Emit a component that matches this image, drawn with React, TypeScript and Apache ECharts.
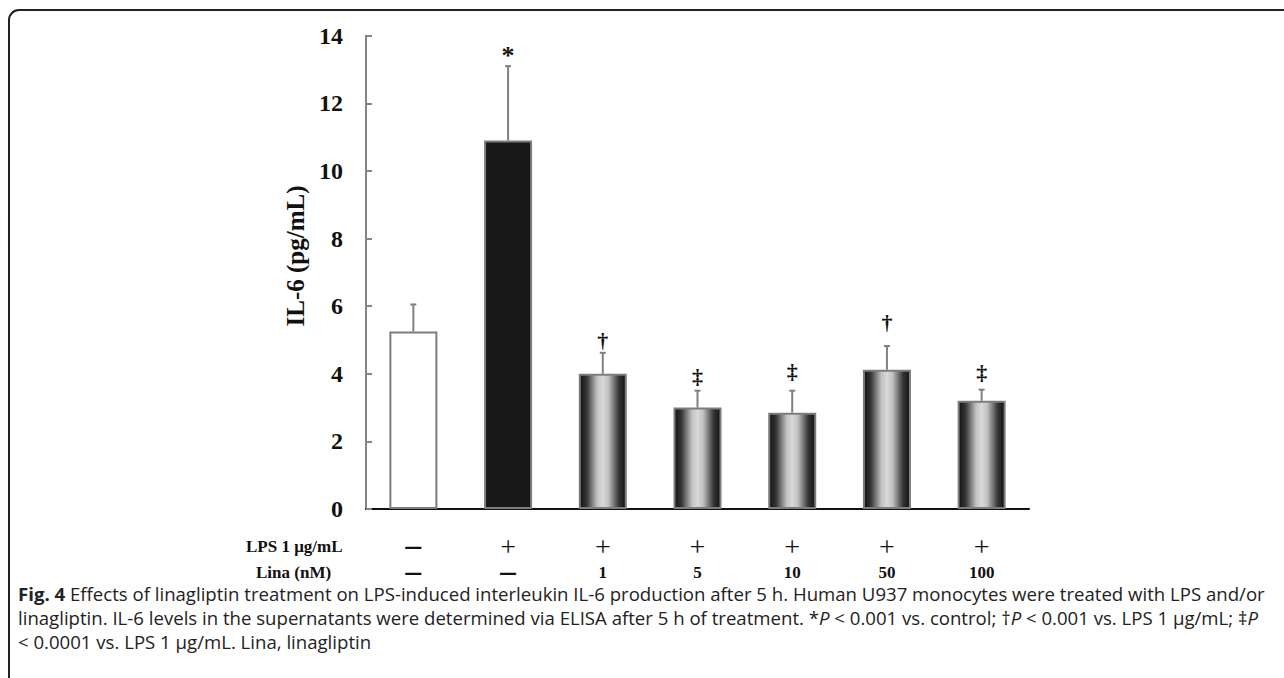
import React, { useEffect, useRef } from "react";
import * as echarts from "echarts";

const categories = ["Control", "LPS", "LPS+Lina 1", "LPS+Lina 5", "LPS+Lina 10", "LPS+Lina 50", "LPS+Lina 100"];
const meanValues = [5.25, 10.9, 4.0, 3.0, 2.85, 4.12, 3.2];
const sdValues = [0.8, 2.2, 0.62, 0.5, 0.65, 0.7, 0.33];
const sigMarks = ["", "*", "†", "‡", "‡", "†", "‡"];
const sigMarkY = [0, 13.4, 4.98, 3.93, 4.06, 5.52, 4.03];
const lpsRow = ["—", "+", "+", "+", "+", "+", "+"];
const linaRow = ["—", "—", "1", "5", "10", "50", "100"];
const yTicks = [0, 2, 4, 6, 8, 10, 12, 14];

const captionLines = [
  "{b|Fig. 4} Effects of linagliptin treatment on LPS-induced interleukin IL-6 production after 5 h. Human U937 monocytes were treated with LPS and/or",
  "linagliptin. IL-6 levels in the supernatants were determined via ELISA after 5 h of treatment. *{i|P} < 0.001 vs. control; †{i|P} < 0.001 vs. LPS 1 μg/mL; ‡{i|P}",
  "< 0.0001 vs. LPS 1 μg/mL. Lina, linagliptin",
];

const SERIF = "'Liberation Serif', 'Times New Roman', serif";
const SANS = "'Open Sans', 'Noto Sans', sans-serif";
const CAP = 18.6;

const rowStyle = (t: string, big: boolean) => {
  if (t === "+") return `{p|+}`;
  if (t === "—") return `{d|—}`;
  return big ? `{n|${t}}` : `{n|${t}}`;
};

export default function App() {
  const ref = useRef<HTMLDivElement>(null);
  useEffect(() => {
    if (!ref.current) return;
    const chart = echarts.init(ref.current, undefined, { renderer: "svg" });
    const gradient = new echarts.graphic.LinearGradient(0, 0, 1, 0, [
      { offset: 0, color: "#121212" },
      { offset: 0.15, color: "#353535" },
      { offset: 0.38, color: "#c2c2c2" },
      { offset: 0.5, color: "#d9d9d9" },
      { offset: 0.62, color: "#c2c2c2" },
      { offset: 0.85, color: "#353535" },
      { offset: 1, color: "#121212" },
    ]);
    const barData = meanValues.map((v, i) => ({
      value: v,
      itemStyle: {
        color: i === 0 ? "#ffffff" : i === 1 ? "#181818" : gradient,
        borderColor: "#7d7d7d",
        borderWidth: 2,
      },
    }));
    const errData = meanValues.map((v, i) => [i, v, v + sdValues[i], sigMarkY[i]]);

    chart.setOption({
      animation: false,
      grid: { left: 366, right: 255, top: 35.7, bottom: 169 },
      xAxis: {
        type: "category",
        data: categories,
        axisLine: { lineStyle: { color: "#111", width: 2 } },
        axisTick: { inside: true, length: 3, lineStyle: { color: "#111", width: 2 } },
        axisLabel: {
          margin: 24,
          formatter: (_v: string, idx: number) => `${rowStyle(lpsRow[idx], true)}\n${rowStyle(linaRow[idx], false)}`,
          rich: {
            p: { fontFamily: SERIF, fontSize: 28, color: "#111", lineHeight: 26 },
            d: { fontFamily: "'DejaVu Sans', sans-serif", fontSize: 18, fontWeight: "bold", color: "#111", lineHeight: 26 },
            n: { fontFamily: SERIF, fontSize: 17, fontWeight: "bold", color: "#111", lineHeight: 26 },
          },
        },
      },
      yAxis: {
        type: "value",
        min: yTicks[0],
        max: yTicks[yTicks.length - 1],
        interval: 2,
        splitLine: { show: false },
        axisLine: { show: true, lineStyle: { color: "#858585", width: 2 } },
        axisTick: { show: true, inside: true, length: 6, lineStyle: { color: "#858585", width: 2 } },
        axisLabel: { margin: 23, fontFamily: SERIF, fontSize: 24, fontWeight: "bold", color: "#111" },
      },
      series: [
        {
          type: "bar",
          data: barData,
          barWidth: 48,
          z: 2,
        },
        {
          type: "custom",
          z: 3,
          data: errData,
          renderItem: (_params: any, api: any) => {
            const idx = api.value(0);
            const base = api.coord([idx, api.value(1)]);
            const top = api.coord([idx, api.value(2)]);
            const mark = api.coord([idx, api.value(3)]);
            const children: any[] = [
              { type: "line", shape: { x1: base[0], y1: base[1], x2: top[0], y2: top[1] }, style: { stroke: "#808080", lineWidth: 2 } },
              { type: "line", shape: { x1: top[0] - 3, y1: top[1], x2: top[0] + 3, y2: top[1] }, style: { stroke: "#808080", lineWidth: 2 } },
            ];
            const m = sigMarks[idx];
            if (m) {
              children.push({
                type: "text",
                x: mark[0],
                y: mark[1],
                style: {
                  text: m,
                  fontFamily: SERIF,
                  fontSize: m === "*" ? 26 : 22,
                  fontWeight: "bold",
                  fill: "#111",
                  align: "center",
                  verticalAlign: "middle",
                },
              });
            }
            return { type: "group", children };
          },
        },
      ],
      graphic: [
        {
          type: "rect",
          shape: { x: 9, y: 10, width: 1320, height: 720, r: 10 },
          style: { fill: "none", stroke: "#222", lineWidth: 2 },
          silent: true,
        },
        {
          type: "text",
          x: 295,
          y: 256,
          rotation: Math.PI / 2,
          style: { text: "IL-6 (pg/mL)", fontFamily: SERIF, fontSize: 25, fontWeight: "bold", fill: "#111", align: "center", verticalAlign: "middle" },
        },
        {
          type: "text",
          x: 246,
          y: 546,
          style: { text: "LPS 1 μg/mL", fontFamily: SERIF, fontSize: 17, fontWeight: "bold", fill: "#111", align: "left", verticalAlign: "middle" },
        },
        {
          type: "text",
          x: 256,
          y: 572,
          style: { text: "Lina (nM)", fontFamily: SERIF, fontSize: 17, fontWeight: "bold", fill: "#111", align: "left", verticalAlign: "middle" },
        },
        ...captionLines.map((line, k) => ({
          type: "text",
          x: 18,
          y: 593 + k * 24,
          style: {
            text: line,
            fontFamily: SANS,
            fontSize: CAP,
            fill: "#222",
            align: "left",
            verticalAlign: "middle",
            rich: {
              b: { fontFamily: SANS, fontSize: CAP, fontWeight: "bold", fill: "#222" },
              i: { fontFamily: SANS, fontSize: CAP, fontStyle: "italic", fill: "#222" },
            },
          },
        })),
      ],
    });
    return () => chart.dispose();
  }, []);
  return <div ref={ref} style={{ position: "absolute", left: 0, top: 0, width: 1284, height: 678 }} />;
}
